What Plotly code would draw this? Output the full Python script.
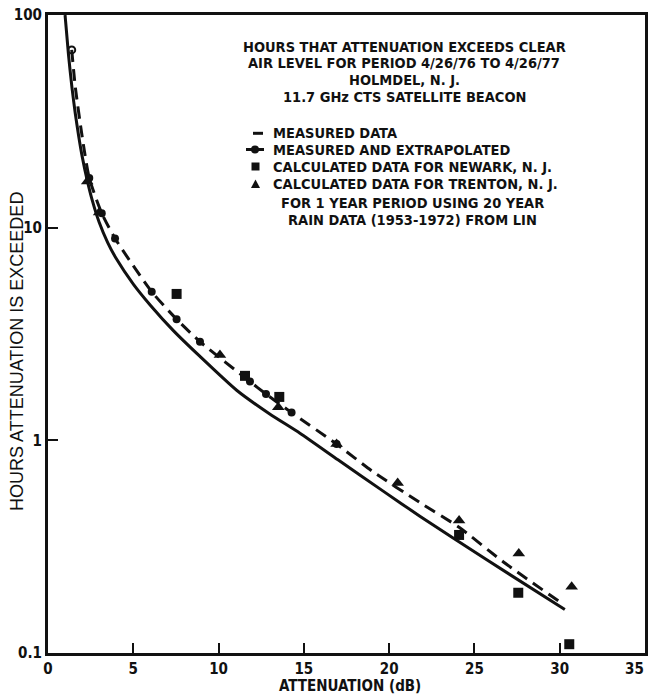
import plotly.graph_objects as go

# ---- data ----
solid_x = [1.0, 1.2, 1.4, 1.6, 1.8, 2.0, 2.3, 2.6, 3.0, 3.5, 4.0, 5.0, 6.0, 7.35, 8.91, 11.06, 13.0, 14.77, 17.0, 19.65, 21.8, 25.7, 30.3]
solid_y = [100, 65.2, 45.9, 34.4, 26.9, 21.7, 16.7, 13.4, 10.6, 8.51, 7.16, 5.43, 4.32, 3.28, 2.48, 1.72, 1.33, 1.08, 0.81, 0.577, 0.44, 0.275, 0.16]

meas_x = [1.39, 2.42, 3.15, 3.93, 6.08, 7.54, 8.91, 11.84, 12.78, 14.28, 16.92]
meas_y = [68.5, 17.1, 11.7, 8.9, 5.0, 3.71, 2.91, 1.89, 1.65, 1.35, 0.96]

dash_x = [1.39, 1.6, 2.0, 2.42, 3.15, 3.93, 6.08, 7.54, 8.91, 11.84, 12.78, 14.28, 16.92, 19.07, 21.8, 24.1, 26.7, 30.0]
dash_y = [68.5, 45.9, 26.9, 17.1, 11.7, 8.9, 5.0, 3.71, 2.91, 1.89, 1.65, 1.35, 0.96, 0.71, 0.51, 0.39, 0.268, 0.174]

newark_x = [7.54, 11.55, 13.56, 24.1, 27.57, 30.56]
newark_y = [4.88, 2.01, 1.6, 0.359, 0.192, 0.110]

trenton_x = [2.3, 3.0, 10.08, 13.5, 16.92, 20.5, 24.1, 27.6, 30.7]
trenton_y = [16.5, 11.8, 2.52, 1.43, 0.96, 0.63, 0.42, 0.294, 0.205]

x_ticks = [0, 5, 10, 15, 20, 25, 30, 35]
x_tick_labels = ["0", "5", "10", "15", "20", "25", "30", ""]
x_last_label = "35"
y_ticks = [0.1, 1, 10, 100]
y_tick_labels = ["0.1", "1", "10", "100"]

title_lines = ["HOURS THAT ATTENUATION EXCEEDS CLEAR",
               "AIR LEVEL FOR PERIOD 4/26/76 TO 4/26/77",
               "HOLMDEL, N. J.",
               "11.7 GHz CTS SATELLITE BEACON"]
legend_labels = ["MEASURED DATA", "MEASURED AND EXTRAPOLATED",
                 "CALCULATED DATA FOR NEWARK, N. J.",
                 "CALCULATED DATA FOR TRENTON, N. J."]
note_lines = ["FOR 1 YEAR PERIOD USING 20 YEAR", "RAIN DATA (1953-1972) FROM LIN"]
x_title = "ATTENUATION (dB)"
y_title = "HOURS ATTENUATION IS EXCEEDED"

FONT = "DejaVu Sans Condensed, Liberation Sans Narrow, sans-serif"
YFONT = "Liberation Sans, Arial, sans-serif"
BLACK = "#111111"

def tf(size, weight="bold", family=FONT):
    return dict(family=family, size=size, color=BLACK, weight=weight)

fig = go.Figure()

fig.add_trace(go.Scatter(x=solid_x, y=solid_y, mode="lines",
                         line=dict(color=BLACK, width=3, shape="spline", smoothing=0.6),
                         showlegend=False))
fig.add_trace(go.Scatter(x=dash_x, y=dash_y, mode="lines",
                         line=dict(color=BLACK, width=3, dash="12px,7px", shape="spline", smoothing=0.6),
                         showlegend=False))
fig.add_trace(go.Scatter(x=meas_x[1:], y=meas_y[1:], mode="markers",
                         marker=dict(symbol="circle", size=8, color=BLACK),
                         showlegend=False))
fig.add_trace(go.Scatter(x=meas_x[:1], y=meas_y[:1], mode="markers",
                         marker=dict(symbol="circle-open", size=7, color=BLACK, line=dict(width=2)),
                         showlegend=False))
fig.add_trace(go.Scatter(x=newark_x, y=newark_y, mode="markers",
                         marker=dict(symbol="square", size=10, color=BLACK),
                         showlegend=False))
fig.add_trace(go.Scatter(x=trenton_x, y=trenton_y, mode="markers",
                         marker=dict(symbol="triangle-up", size=11, color=BLACK),
                         showlegend=False))

def px(xp):
    return (xp - 48) / 597

def py(yp):
    return 1 - (yp - 15) / 638

annotations = []
for i, t in enumerate(title_lines):
    annotations.append(dict(x=px(404), y=py(46.7 + 16.7 * i), xref="paper", yref="paper",
                            text=t, showarrow=False, xanchor="center", yanchor="middle",
                            font=tf(14.5)))
for i, t in enumerate(legend_labels):
    annotations.append(dict(x=px(271), y=py(133.3 + 17 * i), xref="paper", yref="paper",
                            text=t, showarrow=False, xanchor="left", yanchor="middle",
                            font=tf(14.5)))
for i, t in enumerate(note_lines):
    annotations.append(dict(x=px(413), y=py(203.3 + 16.7 * i), xref="paper", yref="paper",
                            text=t, showarrow=False, xanchor="center", yanchor="middle",
                            font=tf(14.5)))
annotations.append(dict(x=px(350), y=py(686), xref="paper", yref="paper", text=x_title,
                        showarrow=False, xanchor="center", yanchor="middle", font=tf(15)))
annotations.append(dict(x=px(17), y=py(352), xref="paper", yref="paper", text=y_title,
                        showarrow=False, xanchor="center", yanchor="middle", textangle=-90,
                        font=tf(18, "normal", YFONT)))
annotations.append(dict(x=x_ticks[-1], xref="x", y=py(669), yref="paper", text=x_last_label,
                        showarrow=False, xanchor="right", yanchor="middle", xshift=1,
                        font=tf(15)))

shapes = []
# legend symbols
shapes.append(dict(type="line", xref="paper", yref="paper", x0=px(253), x1=px(263), y0=py(133.3), y1=py(133.3),
                   line=dict(color=BLACK, width=3)))
shapes.append(dict(type="line", xref="paper", yref="paper", x0=px(246), x1=px(264), y0=py(149.5), y1=py(149.5),
                   line=dict(color=BLACK, width=3)))
shapes.append(dict(type="circle", xref="paper", yref="paper", x0=px(251), x1=px(259), y0=py(153.5), y1=py(145.5),
                   fillcolor=BLACK, line=dict(color=BLACK, width=0)))
shapes.append(dict(type="rect", xref="paper", yref="paper", x0=px(251.5), x1=px(259.5), y0=py(170.5), y1=py(162.5),
                   fillcolor=BLACK, line=dict(color=BLACK, width=0)))
shapes.append(dict(type="path", xref="paper", yref="paper",
                   path=f"M {px(251)} {py(188)} L {px(260)} {py(188)} L {px(255.5)} {py(179.5)} Z",
                   fillcolor=BLACK, line=dict(color=BLACK, width=0)))

fig.update_layout(
    width=652, height=695,
    margin=dict(l=48, r=7, t=15, b=42),
    paper_bgcolor="white", plot_bgcolor="white",
    font=tf(15),
    annotations=annotations, shapes=shapes,
    showlegend=False,
)
fig.update_xaxes(range=[0, 35], tickvals=x_ticks, ticktext=x_tick_labels,
                 ticks="inside", ticklen=10, tickwidth=2,
                 tickcolor=BLACK, showgrid=False, zeroline=False, automargin=False,
                 ticklabeloverflow="allow",
                 showline=True, linecolor=BLACK, linewidth=3, mirror=True,
                 tickfont=tf(15))
fig.update_yaxes(type="log", range=[-1, 2], tickvals=y_ticks, ticktext=y_tick_labels,
                 ticks="inside", ticklen=10, tickwidth=2, tickcolor=BLACK,
                 showgrid=False, zeroline=False, automargin=False,
                 ticklabeloverflow="allow",
                 showline=True, linecolor=BLACK, linewidth=3, mirror=True,
                 tickfont=tf(15))

fig.write_html("out.html")
